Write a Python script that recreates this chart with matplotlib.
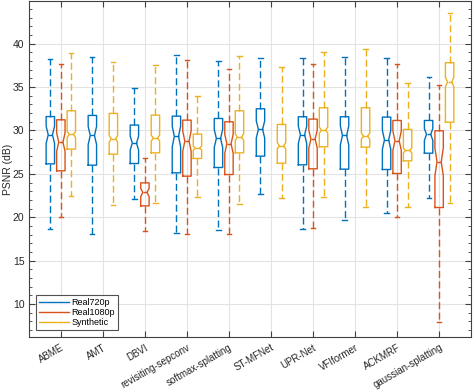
import matplotlib.pyplot as plt
from matplotlib.ticker import MultipleLocator
from matplotlib.transforms import ScaledTranslation
import numpy as np

plt.rcParams["font.family"] = ["Liberation Sans", "DejaVu Sans"]

methods = ["ABME", "AMT", "DBVI", "revisiting-sepconv", "softmax-splatting",
           "ST-MFNet", "UPR-Net", "VFIformer", "ACKMRF", "gaussian-splatting"]

# per box: (whisker low, Q1, median, Q3, whisker high); None = no box
real720p = [
    (18.65, 26.15, 29.50, 31.60, 38.27),
    (18.12, 26.00, 29.42, 31.73, 38.46),
    (22.15, 26.19, 28.54, 30.62, 34.88),
    (18.15, 25.12, 29.31, 31.65, 38.69),
    (18.50, 25.73, 29.08, 31.38, 38.00),
    (22.62, 27.04, 30.12, 32.50, 38.31),
    (18.69, 26.04, 29.50, 31.58, 38.35),
    (19.73, 25.54, 29.42, 31.58, 38.50),
    (20.46, 25.50, 28.92, 31.54, 38.31),
    (22.19, 27.38, 29.54, 31.15, 36.19),
]
real1080p = [
    (20.04, 25.35, 28.65, 31.23, 37.65),
    None,
    (18.46, 21.31, 22.85, 23.96, 26.85),
    (18.04, 24.73, 28.77, 31.19, 38.08),
    (18.04, 24.92, 28.46, 31.00, 37.04),
    None,
    (18.73, 25.58, 29.00, 31.31, 37.69),
    None,
    (20.08, 25.04, 28.81, 31.15, 37.62),
    (7.92, 21.12, 26.38, 29.96, 35.19),
]
synthetic = [
    (22.46, 27.85, 29.54, 32.27, 38.90),
    (21.46, 27.27, 29.04, 31.96, 37.92),
    (21.62, 27.42, 29.12, 31.77, 37.54),
    (22.35, 26.77, 27.96, 29.58, 33.96),
    (21.54, 27.42, 29.23, 32.27, 38.62),
    (22.27, 26.23, 28.23, 30.69, 37.31),
    (22.35, 28.12, 30.04, 32.62, 39.00),
    (21.23, 28.08, 29.35, 32.62, 39.38),
    (21.19, 26.50, 27.69, 30.12, 35.50),
    (21.69, 30.96, 35.58, 37.81, 43.50),
]

series = {"Real720p": real720p, "Real1080p": real1080p, "Synthetic": synthetic}
# approximate sample counts, only used for notch size
n_samples = {"Real720p": 75, "Real1080p": 75, "Synthetic": 400}
colors = {"Real720p": "#0072BD", "Real1080p": "#D95319", "Synthetic": "#EDB120"}
offsets = {"Real720p": -0.25, "Real1080p": 0.0, "Synthetic": 0.25}

fig = plt.figure(figsize=(4.73, 3.90), dpi=100)
ax = fig.add_axes([0.062, 0.136, 0.933, 0.861])

for name, boxes in series.items():
    stats, pos = [], []
    for i, b in enumerate(boxes):
        if b is None:
            continue
        lo, q1, med, q3, hi = b
        half = 1.57 * (q3 - q1) / np.sqrt(n_samples[name])
        stats.append(dict(whislo=lo, q1=q1, med=med, q3=q3, whishi=hi,
                          cilo=med - half, cihi=med + half, fliers=[]))
        pos.append(i + 1 + offsets[name])
    c = colors[name]
    ax.bxp(stats, positions=pos, widths=0.2, shownotches=True,
           showfliers=False, capwidths=0.1,
           boxprops=dict(color=c, linewidth=1.0),
           medianprops=dict(color=c, linewidth=1.0),
           whiskerprops=dict(color=c, linewidth=1.0, linestyle=(0, (5, 2.5))),
           capprops=dict(color=c, linewidth=1.0))
    ax.plot([], [], color=c, linewidth=1.0, label=name)

ax.set_xlim(0.25, 10.75)
ax.set_ylim(6.2, 44.9)
ax.set_xticks(range(1, len(methods) + 1))
ax.set_xticklabels(methods, rotation=30, ha="right", rotation_mode="anchor",
                   fontsize=7)
shift = ScaledTranslation(4 / 100, 0, fig.dpi_scale_trans)
for lab in ax.get_xticklabels():
    lab.set_transform(lab.get_transform() + shift)
ax.yaxis.set_major_locator(MultipleLocator(5))
ax.yaxis.set_minor_locator(MultipleLocator(1))
ax.set_ylabel("PSNR (dB)", fontsize=7.5, color="#262626")
ax.yaxis.set_label_coords(-0.038, 0.5)
ax.tick_params(which="both", direction="in", top=True, right=True,
               colors="#404040", labelcolor="#262626")
ax.tick_params(axis="y", labelsize=7.5)
ax.tick_params(which="major", length=4)
ax.tick_params(which="minor", length=2)
ax.tick_params(axis="x", pad=4)
ax.grid(True, which="major", color="#e3e3e3", linewidth=0.8)
ax.set_axisbelow(True)
for s in ax.spines.values():
    s.set_color("#404040")
    s.set_linewidth(0.8)

leg = ax.legend(loc="lower left", bbox_to_anchor=(0.012, 0.015), fontsize=6.5,
                frameon=True, fancybox=False, handlelength=3.3,
                borderaxespad=0.2, borderpad=0.3, labelspacing=0.15,
                handletextpad=0.3)
leg.get_frame().set_edgecolor("#262626")
leg.get_frame().set_linewidth(0.8)

fig.savefig("out.png", dpi=100)
